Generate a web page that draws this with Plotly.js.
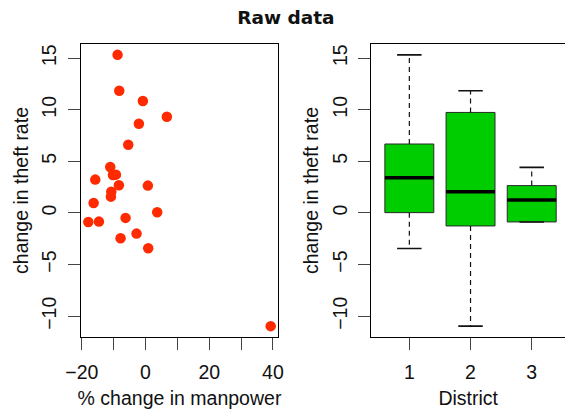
<!DOCTYPE html>
<html>
<head>
<meta charset="utf-8">
<script src="https://cdn.plot.ly/plotly-3.0.1.min.js"></script>
<style>html,body{margin:0;padding:0;background:#fff;}#chart{width:565px;height:411px;}</style>
</head>
<body>
<div id="chart"></div>
<script>
// Scatter data: % change in manpower vs change in theft rate
const manpower = [-8.78, -8.25, -0.84, 6.69, -2.09, -5.43, -11.08, -10.24, -9.3, -15.78, -8.36, 0.73, -10.76, -10.87, -16.3, 3.66, -17.97, -14.63, -6.27, -2.82, -7.84, 0.84, 39.29];
const theft = [15.32, 11.84, 10.84, 9.32, 8.65, 6.61, 4.45, 3.68, 3.71, 3.23, 2.68, 2.65, 2.06, 1.58, 0.97, 0.06, -0.87, -0.84, -0.48, -2.0, -2.45, -3.42, -10.97];

// Boxplot statistics by district
const districts = [1, 2, 3];
const lowerWhisker = [-3.45, -10.97, -0.87];
const q1 = [0.03, -1.26, -0.87];
const median = [3.42, 2.06, 1.26];
const q3 = [6.68, 9.74, 2.65];
const upperWhisker = [15.32, 11.84, 4.42];

// Tick labels
const xTickVals = [-20, -10, 0, 10, 20, 30, 40];
const xTickText = ['\u221220', '', '0', '', '20', '', '40'];
const yTickVals = [-10, -5, 0, 5, 10, 15];
const districtLabels = ['1', '2', '3'];

const font = {family: 'Liberation Sans, Arial, sans-serif', size: 19.5, color: '#111'};
const BOXW = 0.8, CAPW = 0.4;

// whiskers (dashed)
const wx = [], wy = [];
const cx = [], cy = [];
const mx = [], my = [];
districts.forEach((d, i) => {
  wx.push(d, d, null, d, d, null);
  wy.push(q3[i], upperWhisker[i], null, q1[i], lowerWhisker[i], null);
  cx.push(d - CAPW / 2, d + CAPW / 2, null, d - CAPW / 2, d + CAPW / 2, null);
  cy.push(upperWhisker[i], upperWhisker[i], null, lowerWhisker[i], lowerWhisker[i], null);
  mx.push(d - BOXW / 2, d + BOXW / 2, null);
  my.push(median[i], median[i], null);
});

const traces = [
  {type: 'scatter', mode: 'markers', x: manpower, y: theft, xaxis: 'x', yaxis: 'y',
   marker: {color: '#ff2a00', size: 10.5, line: {width: 0}}, hoverinfo: 'x+y'},
  {type: 'box', x: districts, q1: q1, median: median, q3: q3, lowerfence: q1, upperfence: q3,
   xaxis: 'x2', yaxis: 'y2', width: BOXW, whiskerwidth: 0, fillcolor: '#00cd00',
   line: {color: '#2a2a2a', width: 1}, boxpoints: false},
  {type: 'scatter', mode: 'lines', x: wx, y: wy, xaxis: 'x2', yaxis: 'y2',
   line: {color: '#111', width: 1.2, dash: '5px,4px'}, hoverinfo: 'skip'},
  {type: 'scatter', mode: 'lines', x: cx, y: cy, xaxis: 'x2', yaxis: 'y2',
   line: {color: '#111', width: 1.6}, hoverinfo: 'skip'},
  {type: 'scatter', mode: 'lines', x: mx, y: my, xaxis: 'x2', yaxis: 'y2',
   line: {color: '#000', width: 3.5}, hoverinfo: 'skip'}
];

const axisCommon = {showgrid: false, zeroline: false, showline: true, linecolor: '#000', linewidth: 1,
  ticks: 'outside', ticklen: 12, tickcolor: '#444', tickwidth: 1, tickfont: font};

const layout = {
  width: 565, height: 411, showlegend: false,
  paper_bgcolor: '#fff', plot_bgcolor: '#fff',
  margin: {l: 81, r: 0, t: 44, b: 74},
  title: {text: 'Raw data', font: {family: 'DejaVu Sans, sans-serif', size: 18.5, color: '#111', weight: 'bold'},
          x: 0.506, xref: 'container', xanchor: 'center', y: 0.958, yref: 'container', yanchor: 'middle'},
  xaxis: Object.assign({}, axisCommon, {domain: [0, 0.407], range: [-20.26, 41.58], mirror: true,
     tickvals: xTickVals, ticktext: xTickText, anchor: 'y', ticklabelstandoff: 6,
     title: {text: '% change in manpower', font: font, standoff: 8}}),
  yaxis: Object.assign({}, axisCommon, {domain: [0, 1], range: [-12.02, 16.37], mirror: true,
     tickvals: yTickVals, tickangle: -90, anchor: 'x', ticklabelstandoff: 4,
     title: {text: 'change in theft rate', font: font, standoff: 4}}),
  xaxis2: Object.assign({}, axisCommon, {domain: [0.6, 1], range: [0.38, 3.544], mirror: true,
     tickvals: districts, ticktext: districtLabels, anchor: 'y2', ticklabelstandoff: 6,
     title: {text: 'District', font: font, standoff: 8}}),
  yaxis2: Object.assign({}, axisCommon, {domain: [0, 1], range: [-12.02, 16.37], mirror: false,
     tickvals: yTickVals, tickangle: -90, anchor: 'x2', ticklabelstandoff: 4,
     title: {text: 'change in theft rate', font: font, standoff: 4}})
};

Plotly.newPlot('chart', traces, layout, {displayModeBar: false, staticPlot: true});
</script>
</body>
</html>
